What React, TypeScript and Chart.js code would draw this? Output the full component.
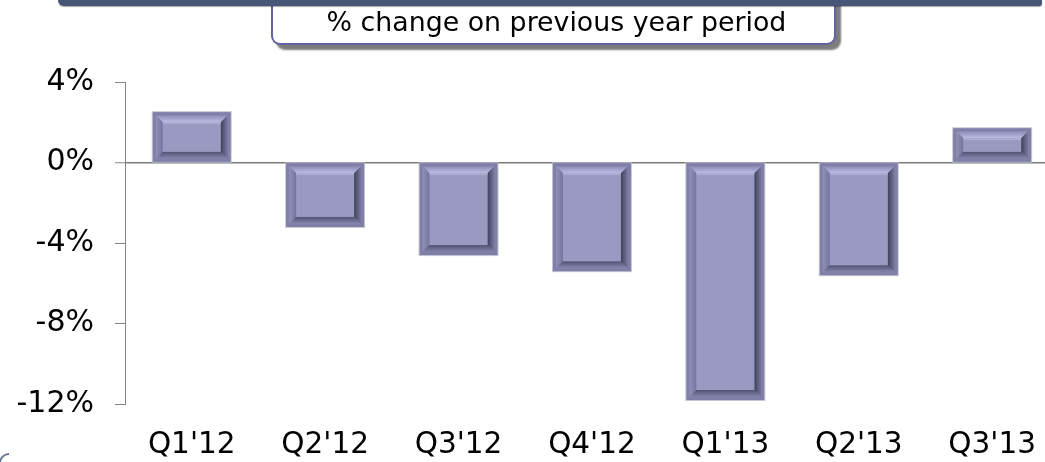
import React, { useEffect, useRef } from "react";
import { Chart, registerables } from "chart.js";

Chart.register(...registerables);

const categories = ["Q1'12", "Q2'12", "Q3'12", "Q4'12", "Q1'13", "Q2'13", "Q3'13"];
const changeValues = [2.5, -3.2, -4.6, -5.4, -11.8, -5.6, 1.7];
const yTickValues = [4, 0, -4, -8, -12];
const titleText = "% change on previous year period";

const FONT = "'DejaVu Sans', Verdana, sans-serif";

const bevelPlugin = {
  id: "bevel",
  afterDatasetsDraw(chart: any) {
    const ctx = chart.ctx as CanvasRenderingContext2D;
    const meta = chart.getDatasetMeta(0);
    meta.data.forEach((bar: any) => {
      const p = bar.getProps(["x", "y", "base", "width"], true);
      const L = p.x - p.width / 2;
      const R = p.x + p.width / 2;
      const T = Math.min(p.y, p.base);
      const B = Math.max(p.y, p.base);
      const w = R - L;
      const h = B - T;
      const a = 3;
      const b = Math.min(10, h / 2 - 4);
      ctx.save();
      ctx.strokeStyle = "rgba(190,190,205,0.9)";
      ctx.lineWidth = 1;
      ctx.strokeRect(L - 0.5, T - 0.5, w + 1, h + 1);
      ctx.fillStyle = "#7f7fa8";
      ctx.fillRect(L, T, w, h);
      const poly = (pts: number[][], fill: any) => {
        ctx.beginPath();
        ctx.moveTo(pts[0][0], pts[0][1]);
        for (let i = 1; i < pts.length; i++) ctx.lineTo(pts[i][0], pts[i][1]);
        ctx.closePath();
        ctx.fillStyle = fill;
        ctx.fill();
      };
      let g = ctx.createLinearGradient(0, T + a, 0, T + b);
      g.addColorStop(0, "#8c8cb6");
      g.addColorStop(1, "#bcbce4");
      poly([[L + a, T + a], [R - a, T + a], [R - b, T + b], [L + b, T + b]], g);
      g = ctx.createLinearGradient(L + a, 0, L + b, 0);
      g.addColorStop(0, "#9090ba");
      g.addColorStop(1, "#74749c");
      poly([[L + a, T + a], [L + b, T + b], [L + b, B - b], [L + a, B - a]], g);
      g = ctx.createLinearGradient(R - a, 0, R - b, 0);
      g.addColorStop(0, "#7a7aa2");
      g.addColorStop(1, "#40405a");
      poly([[R - a, T + a], [R - a, B - a], [R - b, B - b], [R - b, T + b]], g);
      g = ctx.createLinearGradient(0, B - a, 0, B - b);
      g.addColorStop(0, "#8686ae");
      g.addColorStop(1, "#525274");
      poly([[L + a, B - a], [R - a, B - a], [R - b, B - b], [L + b, B - b]], g);
      ctx.fillStyle = "#9999c1";
      ctx.fillRect(L + b, T + b, w - 2 * b, h - 2 * b);
      ctx.fillStyle = "#b2b2da";
      ctx.fillRect(L + b, T + b, w - 2 * b, 1.5);
      ctx.restore();
    });
  },
};

export default function App() {
  const canvasRef = useRef<HTMLCanvasElement | null>(null);

  useEffect(() => {
    const canvas = canvasRef.current;
    if (!canvas) return;
    const chart = new Chart(canvas, {
      type: "bar",
      data: {
        labels: categories,
        datasets: [
          {
            data: changeValues,
            backgroundColor: "#9999c1",
            borderWidth: 0,
            barPercentage: 0.584,
            categoryPercentage: 1,
          },
        ],
      },
      options: {
        animation: false,
        responsive: false,
        events: [],
        layout: { padding: { top: 82, left: 0, right: 0, bottom: 0 } },
        plugins: {
          legend: { display: false },
          title: { display: false },
          tooltip: { enabled: false },
        },
        scales: {
          x: {
            offset: true,
            grid: { display: false, drawTicks: false },
            border: { display: false },
            ticks: {
              color: "#000",
              padding: 24,
              maxRotation: 0,
              autoSkip: false,
              font: { family: FONT, size: 29.5 },
            },
            afterFit: (scale: any) => {
              scale.height = 58;
            },
          },
          y: {
            min: -12,
            max: 4,
            afterBuildTicks: (scale: any) => {
              scale.ticks = yTickValues.map((v) => ({ value: v }));
            },
            grid: {
              drawOnChartArea: true,
              drawTicks: true,
              tickLength: 10,
              tickColor: "#858585",
              tickWidth: 1,
              color: (c: any) => (c.tick && c.tick.value === 0 ? "#7a7a7a" : "rgba(0,0,0,0)"),
              lineWidth: (c: any) => (c.tick && c.tick.value === 0 ? 1.5 : 1),
            },
            border: { display: true, color: "#858585", width: 1 },
            ticks: {
              color: "#000",
              padding: 21,
              font: { family: FONT, size: 30 },
              callback: (v: any) => `${v}%`,
            },
            afterFit: (scale: any) => {
              scale.width = 125;
            },
          },
        },
      },
      plugins: [bevelPlugin],
    });
    return () => chart.destroy();
  }, []);

  return (
    <div
      style={{
        position: "absolute",
        left: 0,
        top: 0,
        width: 1045,
        height: 462,
        overflow: "hidden",
        background: "#fff",
      }}
    >
      <canvas
        ref={canvasRef}
        width={1060}
        height={462}
        style={{ position: "absolute", left: 0, top: 0, width: 1060, height: 462 }}
      />
      <div
        style={{
          position: "absolute",
          left: 271,
          top: -12,
          width: 565,
          height: 57,
          boxSizing: "border-box",
          border: "2px solid #6262a0",
          borderRadius: "0 0 9px 9px",
          background: "#fff",
          boxShadow: "5px 5px 2px #7c7c7c",
        }}
      />
      <div
        style={{
          position: "absolute",
          left: 274,
          top: 7,
          width: 565,
          height: 30,
          lineHeight: "30px",
          textAlign: "center",
          fontFamily: FONT,
          fontSize: 26.8,
          color: "#000",
          whiteSpace: "nowrap",
        }}
      >
        {titleText}
      </div>
      <div
        style={{
          position: "absolute",
          left: 58,
          top: 0,
          width: 984,
          height: 6,
          background: "#465677",
          borderBottomLeftRadius: 10,
          borderBottomRightRadius: 4,
          boxShadow: "0 1px 1px rgba(0,0,0,0.35)",
        }}
      />
      <div
        style={{
          position: "absolute",
          left: -1,
          top: 453,
          width: 10,
          height: 14,
          boxSizing: "border-box",
          borderTop: "2px solid #6b7a99",
          borderLeft: "2px solid #6b7a99",
          borderTopLeftRadius: 10,
        }}
      />
    </div>
  );
}
